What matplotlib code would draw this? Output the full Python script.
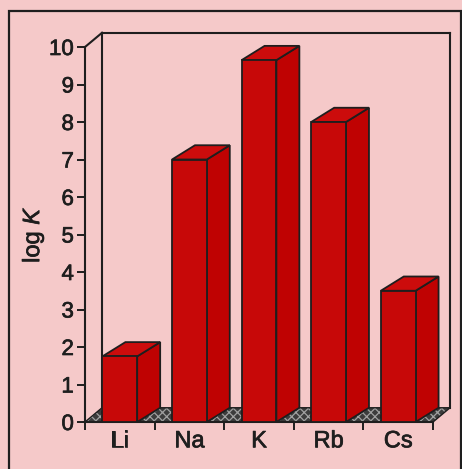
import matplotlib.pyplot as plt
import matplotlib.patheffects as pe
from matplotlib.patches import Polygon, Rectangle

plt.rcParams['font.family'] = ['Liberation Sans', 'DejaVu Sans']
plt.rcParams['mathtext.fontset'] = 'custom'
plt.rcParams['mathtext.rm'] = 'Liberation Sans'
plt.rcParams['mathtext.it'] = 'Liberation Sans:italic'
plt.rcParams['hatch.linewidth'] = 0.9

# data
ions = ['Li', 'Na', 'K', 'Rb', 'Cs']
log_k = [1.75, 7.0, 9.65, 8.0, 3.5]
y_ticks = list(range(0, 11))

bg = '#f5c9c9'
ink = '#1e1e1e'
red_front = '#c70808'
red_side = '#bf0202'
red_top = '#cc0c0c'
thick = [pe.withStroke(linewidth=0.5, foreground=ink)]

fig = plt.figure(figsize=(4.62, 4.69), dpi=100, facecolor=bg)
ax = fig.add_axes([85 / 462, 47 / 469, 348 / 462, 375 / 469])
ax.set_facecolor('none')
ax.set_xlim(0, len(ions))
ax.set_ylim(0, 10)

# oblique depth offsets (in data units)
wdx, wdy = 0.245, 0.38   # back wall / floor
bdx, bdy = 0.33, 0.38    # bars
bw = 0.5

# floor
floor = [(0, 0), (len(ions), 0), (len(ions) + wdx, wdy), (wdx, wdy)]
ax.add_patch(Polygon(floor, closed=True, facecolor='#3c3c3c', edgecolor='#a0a0a0',
                     hatch='xxxx', lw=0, clip_on=False, zorder=1))
ax.add_patch(Polygon(floor, closed=True, facecolor='none', edgecolor=ink,
                     lw=1.0, clip_on=False, zorder=1.5))

# back wall
kw = dict(color=ink, lw=1.5, clip_on=False, zorder=1)
ax.plot([0, wdx], [10, 10 + wdy], **kw)
ax.plot([wdx, wdx], [wdy, 10 + wdy], **kw)
ax.plot([wdx, len(ions) + wdx], [10 + wdy, 10 + wdy], **kw)
ax.plot([len(ions) + wdx, len(ions) + wdx], [wdy, 10 + wdy], **kw)

# bars
for i, v in enumerate(log_k):
    c = i + 0.5
    l, r = c - bw / 2, c + bw / 2
    front = [(l, 0), (r, 0), (r, v), (l, v)]
    side = [(r, 0), (r + bdx, bdy), (r + bdx, v + bdy), (r, v)]
    top = [(l, v), (r, v), (r + bdx, v + bdy), (l + bdx, v + bdy)]
    for pts, col in ((side, red_side), (top, red_top), (front, red_front)):
        ax.add_patch(Polygon(pts, closed=True, facecolor=col, edgecolor=ink,
                             lw=1.3, clip_on=False, zorder=3))

for s in ('top', 'right'):
    ax.spines[s].set_visible(False)
for s in ('left', 'bottom'):
    ax.spines[s].set_linewidth(1.5)
    ax.spines[s].set_color(ink)
    ax.spines[s].set_zorder(2)

ax.set_yticks(y_ticks)
ax.set_xticks(range(len(ions) + 1))
ax.set_xticklabels([])
ax.set_xticks([i + 0.5 for i in range(len(ions))], minor=True)
ax.set_xticklabels(ions, minor=True)
ax.tick_params(axis='x', which='major', direction='out', length=6, width=1.4, color=ink)
ax.tick_params(axis='x', which='minor', length=0, pad=6, labelsize=17, labelcolor=ink)
ax.tick_params(axis='y', direction='out', length=6, width=1.4, pad=2, labelsize=16,
               color=ink, labelcolor=ink)
for t in ax.get_xticklabels(minor=True) + ax.get_yticklabels():
    t.set_path_effects(thick)

ax.set_ylabel('log $K$', fontsize=17, labelpad=2, color=ink)
ax.yaxis.label.set_path_effects(thick)

# outer frame
fig.patches.append(Rectangle((9 / 462, -0.02), 452 / 462, 1.02 - 11 / 469,
                             transform=fig.transFigure, facecolor='none',
                             edgecolor=ink, lw=1.6))

fig.savefig('out.png', dpi=100, facecolor=bg)
